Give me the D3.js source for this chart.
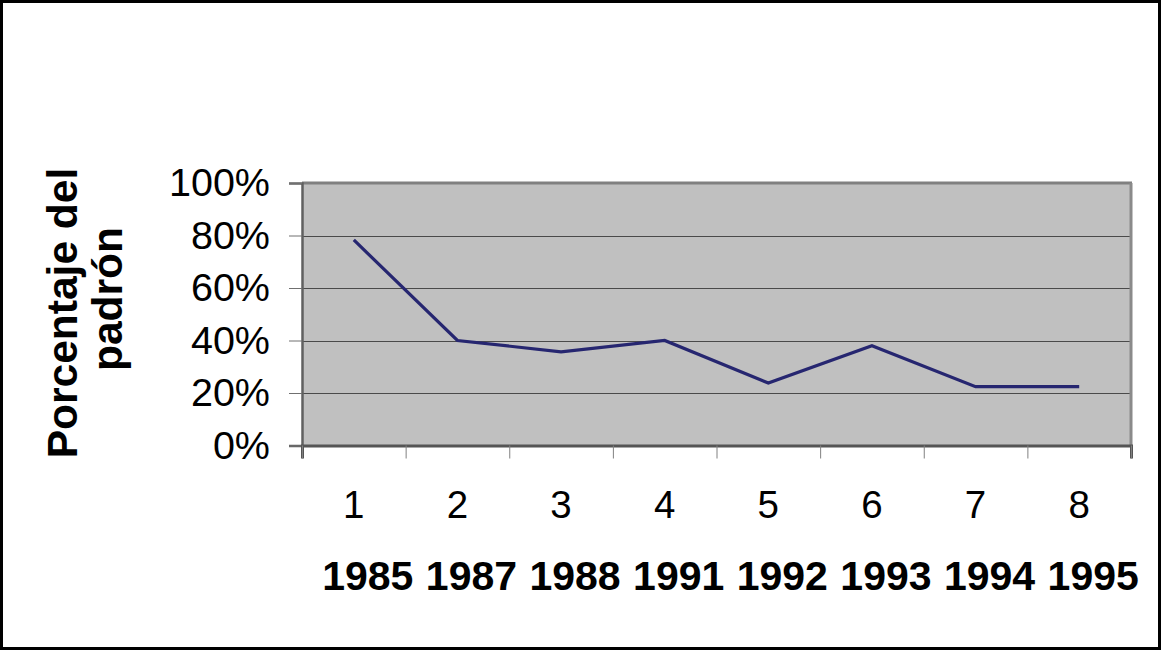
<!DOCTYPE html>
<html><head><meta charset="utf-8">
<script src="https://cdn.jsdelivr.net/npm/d3@7"></script>
<style>body{margin:0;background:#fff}svg{display:block}text{font-family:Arial,"Liberation Sans",sans-serif}</style>
</head><body><svg id="c" width="1166" height="651"></svg>
<script>
const categories = ["1","2","3","4","5","6","7","8"];
const years = ["1985","1987","1988","1991","1992","1993","1994","1995"];
const values = [0.783, 0.40, 0.357, 0.40, 0.238, 0.38, 0.224, 0.224];
const yTicks = [0, 0.2, 0.4, 0.6, 0.8, 1.0];
const yTitle = ["Porcentaje del", "padrón"];

const svg = d3.select("#c");
const L = 302, R = 1131, T = 183, B = 445.5;

svg.append("rect").attr("x",1.5).attr("y",1.5).attr("width",1158).attr("height",647)
  .attr("fill","#fff").attr("stroke","#000").attr("stroke-width",3);

const x = d3.scaleBand().domain(categories).range([L, R]).padding(0);
const y = d3.scaleLinear().domain([0, 1]).range([B, T]);

svg.append("rect").attr("x",L).attr("y",T).attr("width",R-L).attr("height",B-T).attr("fill","#c0c0c0");

// gridlines
svg.append("g").selectAll("line").data(yTicks.filter(d=>d>0&&d<1)).join("line")
  .attr("x1",L).attr("x2",R).attr("y1",d=>Math.round(y(d))+0.5).attr("y2",d=>Math.round(y(d))+0.5)
  .attr("stroke","#4a4a4a").attr("stroke-width",1);

// plot border
svg.append("line").attr("x1",L).attr("x2",R+1).attr("y1",T).attr("y2",T).attr("stroke","#808080").attr("stroke-width",3);
svg.append("line").attr("x1",R).attr("x2",R).attr("y1",T).attr("y2",B).attr("stroke","#8a8a8a").attr("stroke-width",3);

// y axis
const yAxis = svg.append("g").attr("transform",`translate(${L},0)`)
  .call(d3.axisLeft(y).tickValues(yTicks).tickFormat(d3.format(".0%")).tickSize(13).tickPadding(19));
yAxis.select(".domain").attr("stroke","#606060").attr("stroke-width",2.5);
yAxis.selectAll(".tick line").attr("stroke","#707070");
yAxis.selectAll("text").attr("font-size",39.5).attr("fill","#000");

// x axis: ticks at band boundaries
const xb = d3.scaleLinear().domain([0, categories.length]).range([L, R]);
const xAxis = svg.append("g").attr("transform",`translate(0,${B})`)
  .call(d3.axisBottom(xb).ticks(categories.length).tickSize(13).tickFormat(""));
xAxis.select(".domain").attr("stroke","#555").attr("stroke-width",3);
xAxis.selectAll(".tick line").attr("stroke","#808080");

svg.append("g").selectAll("text").data(categories).join("text")
  .attr("x",d=>x(d)+x.bandwidth()/2).attr("y",518).attr("text-anchor","middle")
  .attr("font-size",38.5).text(d=>d);
svg.append("g").selectAll("text").data(years).join("text")
  .attr("x",(d,i)=>x(categories[i])+x.bandwidth()/2+14).attr("y",590).attr("text-anchor","middle")
  .attr("font-size",41).attr("font-weight","bold").text(d=>d);

// line
const line = d3.line().x((d,i)=>x(categories[i])+x.bandwidth()/2).y(d=>y(d));
svg.append("path").datum(values).attr("d",line).attr("fill","none")
  .attr("stroke","#262670").attr("stroke-width",3.2).attr("stroke-linejoin","miter");

// y title
const ytCenters = [313, 299], ytBase = [77, 122];
svg.append("g").selectAll("text").data(yTitle).join("text")
  .attr("transform",(d,i)=>`translate(${ytBase[i]},${ytCenters[i]}) rotate(-90)`)
  .attr("text-anchor","middle").attr("font-size",42.5).attr("font-weight","bold").text(d=>d);
</script></body></html>
